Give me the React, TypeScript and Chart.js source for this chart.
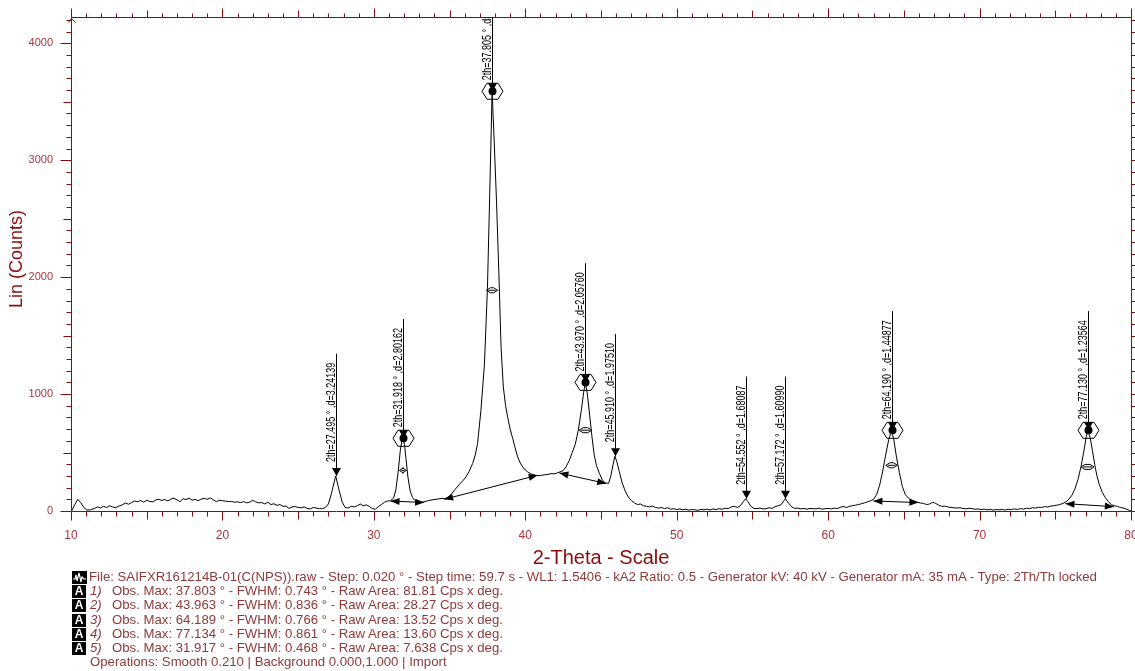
import React, { useEffect, useRef } from 'react';
import { Chart, registerables } from 'chart.js';
Chart.register(...registerables);

// ---- data ----
const twoTheta = [
  10.05, 10.25, 10.45, 10.65, 10.85, 11.05, 11.3, 11.55, 11.75, 11.95, 12.15, 12.35, 12.55, 12.75, 12.95,
  13.15, 13.35, 13.6, 13.8, 14.0, 14.2, 14.4, 14.6, 14.8, 15.0, 15.2, 15.4, 15.6, 15.8, 16.0, 16.2, 16.4,
  16.6, 16.8, 17.0, 17.2, 17.4, 17.6, 17.8, 18.0, 18.2, 18.4, 18.6, 18.8, 19.0, 19.2, 19.4, 19.6, 19.8,
  20.0, 20.2, 20.4, 20.6, 20.8, 21.0, 21.2, 21.4, 21.6, 21.8, 22.0, 22.2, 22.4, 22.6, 22.8, 23.0, 23.2,
  23.4, 23.6, 23.8, 24.0, 24.2, 24.4, 24.6, 24.8, 25.0, 25.2, 25.4, 25.6, 25.8, 26.0, 26.2, 26.4, 26.6,
  26.8, 27.0, 27.2, 27.48, 27.7, 27.9, 28.1, 28.3, 28.5, 28.7, 28.9, 29.1, 29.3, 29.5, 29.7, 29.9, 30.1,
  30.3, 30.5, 30.7, 30.9, 31.1, 31.3, 31.45, 31.6, 31.75, 31.85, 31.93, 32.02, 32.12, 32.25, 32.4, 32.55,
  32.7, 32.9, 33.1, 33.3, 33.5, 33.7, 33.9, 34.1, 34.3, 34.5, 34.7, 34.9, 35.1, 35.3, 35.5, 35.7, 35.9,
  36.08, 36.3, 36.52, 36.7, 36.85, 37.07, 37.3, 37.5, 37.65, 37.81, 37.95, 38.1, 38.27, 38.4, 38.55, 38.7,
  38.84, 39.0, 39.17, 39.33, 39.5, 39.67, 39.83, 40.0, 40.16, 40.4, 40.71, 40.9, 41.1, 41.3, 41.5, 41.7,
  41.9, 42.1, 42.3, 42.5, 42.7, 42.9, 43.1, 43.3, 43.5, 43.7, 43.85, 43.97, 44.1, 44.25, 44.4, 44.55,
  44.7, 44.9, 45.1, 45.3, 45.5, 45.65, 45.8, 45.92, 46.05, 46.2, 46.4, 46.6, 46.8, 47.0, 47.2, 47.4, 47.6,
  47.8, 48.0, 48.2, 48.4, 48.6, 48.8, 49.0, 49.2, 49.4, 49.6, 49.8, 50.0, 50.2, 50.4, 50.6, 50.8, 51.0,
  51.2, 51.4, 51.6, 51.8, 52.0, 52.2, 52.4, 52.6, 52.8, 53.0, 53.2, 53.4, 53.6, 53.8, 54.0, 54.2, 54.4,
  54.55, 54.7, 54.9, 55.1, 55.3, 55.5, 55.7, 55.9, 56.1, 56.3, 56.5, 56.7, 56.9, 57.17, 57.4, 57.6, 57.8,
  58.0, 58.2, 58.4, 58.6, 58.8, 59.0, 59.2, 59.4, 59.6, 59.8, 60.0, 60.2, 60.4, 60.6, 60.8, 61.0, 61.2,
  61.4, 61.6, 61.8, 62.0, 62.2, 62.4, 62.6, 62.8, 63.0, 63.2, 63.4, 63.6, 63.8, 64.0, 64.19, 64.35, 64.5,
  64.7, 64.9, 65.1, 65.3, 65.5, 65.7, 65.9, 66.1, 66.3, 66.5, 66.7, 66.9, 67.1, 67.3, 67.5, 67.7, 67.9,
  68.1, 68.3, 68.5, 68.7, 68.9, 69.1, 69.3, 69.5, 69.7, 69.9, 70.1, 70.3, 70.5, 70.7, 70.9, 71.1, 71.3,
  71.5, 71.7, 71.9, 72.1, 72.3, 72.5, 72.7, 72.9, 73.1, 73.3, 73.5, 73.7, 73.9, 74.1, 74.3, 74.5, 74.7,
  74.9, 75.1, 75.3, 75.5, 75.7, 75.9, 76.1, 76.3, 76.5, 76.7, 76.9, 77.05, 77.15, 77.3, 77.45, 77.6, 77.75,
  77.9, 78.1, 78.3, 78.5, 78.7, 78.9, 79.1, 79.3, 79.5, 79.7, 79.9, 80.0,
];
const counts = [
  2, 55, 100, 70, 30, 8, 10, 22, 35, 25, 40, 30, 45, 35, 28,
  42, 50, 68, 58, 72, 85, 80, 90, 75, 92, 82, 78, 95, 100, 90, 98, 86,
  102, 110, 95, 80, 105, 98, 110, 92, 100, 88, 102, 108, 100, 112, 96, 80, 92,
  88, 85, 80, 82, 75, 78, 72, 80, 70, 75, 92, 78, 70, 72, 60, 75, 55,
  62, 48, 55, 40, 42, 22, 35, 38, 30, 28, 35, 22, 18, 30, 25, 20, 20,
  30, 60, 150, 300, 180, 80, 30, 25, 40, 35, 45, 60, 45, 52, 40, 20, 15,
  38, 55, 75, 85, 88, 110, 180, 330, 520, 600, 622, 570, 450, 290, 170, 115,
  92, 78, 75, 78, 85, 92, 96, 100, 104, 108, 105, 118, 140, 175, 205, 235, 262,
  291, 340, 406, 480, 577, 861, 1250, 1900, 2700, 3590, 3150, 2650, 1975, 1400, 1060, 900,
  800, 700, 620, 540, 462, 410, 377, 350, 334, 316, 304, 302, 306, 310, 312, 320,
  318, 325, 335, 345, 380, 430, 500, 570, 690, 860, 1010, 1100, 1000, 820, 640, 480,
  390, 320, 262, 240, 236, 300, 400, 468, 420, 340, 240, 170, 120, 90, 70, 55, 60,
  45, 40, 35, 42, 30, 25, 30, 20, 28, 15, 20, 12, 18, 10, 15, 8, 12,
  10, 6, 14, 10, 16, 8, 18, 12, 20, 15, 24, 20, 35, 40, 30, 45, 80,
  105, 80, 40, 22, 20, 25, 18, 20, 28, 22, 38, 45, 55, 105, 65, 35, 22,
  25, 18, 22, 15, 22, 20, 18, 25, 15, 20, 22, 18, 25, 20, 32, 38, 30,
  40, 45, 50, 55, 62, 70, 78, 88, 100, 140, 220, 340, 480, 610, 690, 600, 470,
  330, 210, 140, 110, 95, 85, 75, 68, 65, 55, 60, 75, 65, 50, 40, 42, 35,
  30, 28, 25, 28, 22, 18, 24, 20, 15, 18, 12, 16, 10, 14, 8, 12, 10,
  14, 8, 15, 12, 18, 14, 20, 16, 24, 20, 28, 25, 32, 30, 38, 34, 42,
  45, 50, 55, 65, 78, 100, 135, 190, 270, 380, 520, 640, 690, 630, 520, 400, 300,
  230, 160, 115, 80, 55, 45, 40, 30, 25, 15, 5, 0,
];

const xTickValues = [10, 20, 30, 40, 50, 60, 70, 80];
const yTickValues = [0, 1000, 2000, 3000, 4000];

const peakTheta = [27.495, 31.918, 37.805, 43.97, 45.91, 54.552, 57.172, 64.19, 77.13];
const peakCounts = [300, 622, 3590, 1100, 468, 105, 105, 690, 690];
const peakLabels = [
  '2th=27.495 ° ,d=3.24139',
  '2th=31.918 ° ,d=2.80162',
  '2th=37.805 ° ,d=2.37776',
  '2th=43.970 ° ,d=2.05760',
  '2th=45.910 ° ,d=1.97510',
  '2th=54.552 ° ,d=1.68087',
  '2th=57.172 ° ,d=1.60990',
  '2th=64.190 ° ,d=1.44877',
  '2th=77.130 ° ,d=1.23564',
];
const peakMarker = ['tri', 'hex', 'hex', 'hex', 'tri', 'tri', 'tri', 'hex', 'hex'];

const fwhmTheta = [31.918, 37.805, 43.97, 64.19, 77.13];
const fwhmWidth = [0.468, 0.743, 0.836, 0.766, 0.861];
const fwhmCounts = [347, 1888, 691, 391, 377];

const bgStartTheta = [31.1, 34.64, 42.25, 62.99, 75.67];
const bgStartCounts = [86, 100, 325, 86, 63];
const bgEndTheta = [33.32, 40.82, 45.34, 65.96, 78.87];
const bgEndCounts = [72, 306, 235, 72, 37];

const fileLine =
  'File: SAIFXR161214B-01(C(NPS)).raw - Step: 0.020 ° - Step time: 59.7 s - WL1: 1.5406 - kA2 Ratio: 0.5 - Generator kV: 40 kV - Generator mA: 35 mA - Type: 2Th/Th locked';
const rangeNumbers = ['1)', '2)', '3)', '4)', '5)'];
const rangeLines = [
  'Obs. Max: 37.803 ° - FWHM: 0.743 ° - Raw Area: 81.81 Cps x deg.',
  'Obs. Max: 43.963 ° - FWHM: 0.836 ° - Raw Area: 28.27 Cps x deg.',
  'Obs. Max: 64.189 ° - FWHM: 0.766 ° - Raw Area: 13.52 Cps x deg.',
  'Obs. Max: 77.134 ° - FWHM: 0.861 ° - Raw Area: 13.60 Cps x deg.',
  'Obs. Max: 31.917 ° - FWHM: 0.468 ° - Raw Area: 7.638 Cps x deg.',
];
const operationsLine = 'Operations: Smooth 0.210 | Background 0.000,1.000 | Import';

const AXIS = '#8b0a0a';
const TICK_TEXT = '#a8343c';
const INFO = '#8e3a3a';
const FONT = '"Liberation Sans", Arial, sans-serif';

function arrowHead(ctx: CanvasRenderingContext2D, x: number, y: number, fx: number, fy: number) {
  const ang = Math.atan2(y - fy, x - fx);
  const L = 9, W = 3.5;
  ctx.beginPath();
  ctx.moveTo(x, y);
  ctx.lineTo(x - L * Math.cos(ang) + W * Math.sin(ang), y - L * Math.sin(ang) - W * Math.cos(ang));
  ctx.lineTo(x - L * Math.cos(ang) - W * Math.sin(ang), y - L * Math.sin(ang) + W * Math.cos(ang));
  ctx.closePath();
  ctx.fill();
}

const xrdPlugin = {
  id: 'xrdDecor',
  afterDatasetsDraw(chart: any) {
    const ctx: CanvasRenderingContext2D = chart.ctx;
    const xs = chart.scales.x;
    const ys = chart.scales.y;
    const a = chart.chartArea;
    ctx.save();

    // ---- frame & ticks ----
    ctx.strokeStyle = AXIS;
    ctx.lineWidth = 1;
    const L = Math.round(a.left) + 0.5;
    const R = Math.round(a.right) + 0.5;
    const T = Math.round(a.top) + 0.5;
    const B = Math.round(a.bottom) + 0.5;
    ctx.beginPath();
    ctx.moveTo(L, T); ctx.lineTo(L, B); ctx.lineTo(R, B); ctx.lineTo(R, T); ctx.lineTo(L, T);
    ctx.stroke();
    ctx.beginPath();
    for (let d = Math.ceil(xs.min); d <= xs.max; d++) {
      const px = Math.round(xs.getPixelForValue(d)) + 0.5;
      const lb = d % 10 === 0 ? 9 : d % 5 === 0 ? 8 : 5;
      const lt = d % 10 === 0 ? 9 : d % 5 === 0 ? 7 : 4;
      ctx.moveTo(px, B); ctx.lineTo(px, B + lb);
      ctx.moveTo(px, T); ctx.lineTo(px, T - lt);
    }
    for (let v = 0; v <= ys.max; v += 100) {
      const py = Math.round(ys.getPixelForValue(v)) + 0.5;
      const ll = v % 1000 === 0 ? 11 : v % 500 === 0 ? 8 : 5;
      ctx.moveTo(L, py); ctx.lineTo(L - ll, py);
      ctx.moveTo(R, py); ctx.lineTo(R + 4, py);
    }
    // small arrow tip on the y axis
    ctx.moveTo(L - 3, T + 5); ctx.lineTo(L, T + 1); ctx.lineTo(L + 4, T + 5);
    ctx.stroke();

    // ---- axis titles ----
    ctx.fillStyle = AXIS;
    ctx.font = `20px ${FONT}`;
    ctx.textAlign = 'center';
    ctx.textBaseline = 'middle';
    ctx.fillText('2-Theta - Scale', (a.left + a.right) / 2, a.bottom + 47);
    ctx.save();
    ctx.translate(17, 259);
    ctx.rotate(-Math.PI / 2);
    ctx.font = `18px ${FONT}`;
    ctx.fillText('Lin (Counts)', 0, 0);
    ctx.restore();

    // ---- annotations (clipped to plot area) ----
    ctx.save();
    ctx.beginPath();
    ctx.rect(a.left, a.top, a.right - a.left, a.bottom - a.top);
    ctx.clip();
    ctx.strokeStyle = '#000';
    ctx.fillStyle = '#000';
    ctx.lineWidth = 1;

    // background arrows
    for (let i = 0; i < bgStartTheta.length; i++) {
      const x1 = xs.getPixelForValue(bgStartTheta[i]);
      const y1 = ys.getPixelForValue(bgStartCounts[i]);
      const x2 = xs.getPixelForValue(bgEndTheta[i]);
      const y2 = ys.getPixelForValue(bgEndCounts[i]);
      ctx.beginPath(); ctx.moveTo(x1, y1); ctx.lineTo(x2, y2); ctx.stroke();
      arrowHead(ctx, x1, y1, x2, y2);
      arrowHead(ctx, x2, y2, x1, y1);
    }

    // FWHM markers
    for (let i = 0; i < fwhmTheta.length; i++) {
      const xl = xs.getPixelForValue(fwhmTheta[i] - fwhmWidth[i] / 2);
      const xr = xs.getPixelForValue(fwhmTheta[i] + fwhmWidth[i] / 2);
      const y = ys.getPixelForValue(fwhmCounts[i]);
      ctx.beginPath();
      ctx.moveTo(xl, y); ctx.lineTo(xl + 4, y - 2.5); ctx.lineTo(xr - 4, y - 2.5); ctx.lineTo(xr, y);
      ctx.lineTo(xr - 4, y + 2.5); ctx.lineTo(xl + 4, y + 2.5); ctx.closePath();
      ctx.stroke();
      ctx.beginPath(); ctx.moveTo(xl + 2, y); ctx.lineTo(xr - 2, y); ctx.stroke();
    }

    // peak markers, lines and labels
    ctx.font = `12px ${FONT}`;
    const cond = 0.75;
    for (let i = 0; i < peakTheta.length; i++) {
      const px = Math.round(xs.getPixelForValue(peakTheta[i])) + 0.5;
      const py = ys.getPixelForValue(peakCounts[i]);
      let markerTop: number;
      ctx.beginPath();
      ctx.moveTo(px, py); ctx.lineTo(px - 4.5, py - 8); ctx.lineTo(px + 4.5, py - 8); ctx.closePath();
      ctx.fill();
      if (peakMarker[i] === 'hex') {
        ctx.beginPath();
        ctx.arc(px, py, 4, 0, Math.PI * 2);
        ctx.fill();
        ctx.beginPath();
        ctx.moveTo(px - 10.5, py);
        ctx.lineTo(px - 5.5, py - 8);
        ctx.lineTo(px + 5.5, py - 8);
        ctx.lineTo(px + 10.5, py);
        ctx.lineTo(px + 5.5, py + 8);
        ctx.lineTo(px - 5.5, py + 8);
        ctx.closePath();
        ctx.stroke();
        markerTop = py - 8;
      } else {
        markerTop = py - 8;
      }
      const textBottom = markerTop - (peakMarker[i] === 'hex' ? 3 : 6);
      const tw = ctx.measureText(peakLabels[i]).width * cond;
      const lineTop = textBottom - tw - 9;
      ctx.beginPath(); ctx.moveTo(px, py); ctx.lineTo(px, lineTop); ctx.stroke();
      ctx.save();
      ctx.translate(px - 1.5, textBottom);
      ctx.rotate(-Math.PI / 2);
      ctx.scale(cond, 1);
      ctx.textAlign = 'left';
      ctx.textBaseline = 'alphabetic';
      ctx.fillText(peakLabels[i], 0, 0);
      ctx.restore();
    }
    ctx.restore();
    ctx.restore();
  },
};

function WaveIcon() {
  return (
    <svg width="15" height="13" style={{ position: 'absolute', left: 0, top: 0 }}>
      <rect x="0" y="0" width="15" height="13" fill="#000" />
      <polyline points="1,8 3,8 4,4 5,10 7,2 9,11 10,6 12,8 14,8" fill="none" stroke="#fff" strokeWidth="1.2" />
    </svg>
  );
}

function AIcon() {
  return (
    <span
      style={{
        position: 'absolute', left: 0, top: 0, width: 14, height: 13, background: '#000', color: '#fff',
        fontFamily: FONT, fontSize: 12, lineHeight: '13px', textAlign: 'center', fontWeight: 'bold',
      }}
    >
      A
    </span>
  );
}

export default function App() {
  const ref = useRef<HTMLCanvasElement | null>(null);
  useEffect(() => {
    if (!ref.current) return;
    const points = twoTheta.map((t, i) => ({ x: t, y: counts[i] }));
    const chart = new Chart(ref.current, {
      type: 'line',
      data: {
        datasets: [
          {
            data: points,
            borderColor: '#000',
            borderWidth: 1,
            pointRadius: 0,
            tension: 0,
            fill: false,
          },
        ],
      },
      options: {
        animation: false,
        responsive: false,
        devicePixelRatio: 1,
        events: [],
        layout: { padding: { top: 17, right: 4, left: 0, bottom: 0 } },
        plugins: { legend: { display: false }, tooltip: { enabled: false }, title: { display: false } },
        scales: {
          x: {
            type: 'linear',
            min: 10,
            max: 80,
            grid: { display: false, drawTicks: false },
            border: { display: false },
            afterFit: (s: any) => { s.height = 160; s.paddingLeft = 0; s.paddingRight = 0; },
            afterBuildTicks: (s: any) => { s.ticks = xTickValues.map((v) => ({ value: v })); },
            ticks: {
              color: TICK_TEXT,
              font: { family: FONT, size: 12 },
              padding: 17,
              maxRotation: 0,
              autoSkip: false,
              callback: (v: any) => String(v),
            },
          },
          y: {
            type: 'linear',
            min: 0,
            max: 4225,
            grid: { display: false, drawTicks: false },
            border: { display: false },
            afterFit: (s: any) => { s.width = 71; s.paddingTop = 0; s.paddingBottom = 0; },
            afterBuildTicks: (s: any) => { s.ticks = yTickValues.map((v) => ({ value: v })); },
            ticks: {
              color: TICK_TEXT,
              font: { family: FONT, size: 11 },
              padding: 18,
              autoSkip: false,
              callback: (v: any) => String(v),
            },
          },
        },
      },
      plugins: [xrdPlugin],
    });
    return () => chart.destroy();
  }, []);

  const lineTop = (i: number) => 571 + i * 14.17;
  const textStyle: React.CSSProperties = {
    position: 'absolute', fontFamily: FONT, fontSize: 13.2, color: INFO, lineHeight: '14px', whiteSpace: 'nowrap',
  };

  return (
    <div style={{ position: 'absolute', left: 0, top: 0, width: 1135, height: 671, background: '#fff', overflow: 'hidden' }}>
      <canvas ref={ref} width={1135} height={671} style={{ position: 'absolute', left: 0, top: 0, width: 1135, height: 671 }} />
      <div style={{ position: 'absolute', left: 72, top: lineTop(0), width: 1060, height: 14 }}>
        <WaveIcon />
        <span style={{ ...textStyle, left: 17, top: -1 }}>{fileLine}</span>
      </div>
      {rangeLines.map((t, i) => (
        <div key={i} style={{ position: 'absolute', left: 72, top: lineTop(i + 1), width: 1000, height: 14 }}>
          <AIcon />
          <span style={{ ...textStyle, left: 18, top: -1, fontStyle: 'italic' }}>{rangeNumbers[i]}</span>
          <span style={{ ...textStyle, left: 40, top: -1 }}>{t}</span>
        </div>
      ))}
      <div style={{ position: 'absolute', left: 72, top: lineTop(6), width: 1000, height: 14 }}>
        <span style={{ ...textStyle, left: 18, top: -1 }}>{operationsLine}</span>
      </div>
    </div>
  );
}
